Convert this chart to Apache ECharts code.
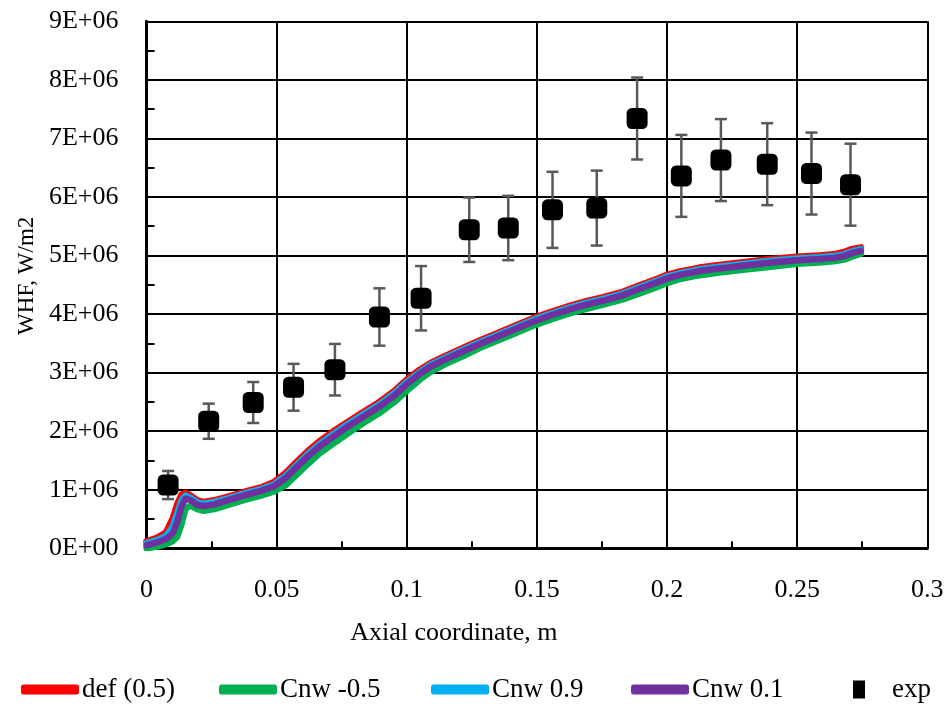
<!DOCTYPE html>
<html>
<head>
<meta charset="utf-8">
<script src="https://cdn.jsdelivr.net/npm/echarts@6/dist/echarts.min.js"></script>
<style>
  html, body { margin: 0; padding: 0; background: #fff; }
  #chart { width: 952px; height: 713px; }
</style>
</head>
<body>
<div id="chart"></div>
<script>
// Axial coordinate (m) of the computed wall heat flux profiles
const axialPos = [0, 0.004, 0.0075, 0.010, 0.0118, 0.0135, 0.015, 0.017, 0.0195, 0.022,
  0.026, 0.032, 0.038, 0.044, 0.049, 0.0535, 0.058, 0.062, 0.0665, 0.0715,
  0.077, 0.083, 0.0895, 0.095, 0.100, 0.105, 0.109, 0.115, 0.1215, 0.128,
  0.1345, 0.1415, 0.1485, 0.1555, 0.1625, 0.169, 0.1755, 0.183, 0.190, 0.196,
  0.200, 0.205, 0.212, 0.220, 0.230, 0.240, 0.250, 0.2585, 0.264, 0.268,
  0.271, 0.2745];

// Wall heat flux, in units of 1E+06 W/m2
const whfDef = [0.12, 0.18, 0.27, 0.50, 0.75, 0.92, 0.95, 0.90, 0.82, 0.79,
  0.82, 0.89, 0.97, 1.04, 1.13, 1.29, 1.49, 1.66, 1.83, 1.99,
  2.15, 2.32, 2.50, 2.68, 2.88, 3.05, 3.16, 3.29, 3.42, 3.55,
  3.67, 3.80, 3.93, 4.04, 4.14, 4.22, 4.29, 4.38, 4.50, 4.60,
  4.67, 4.73, 4.79, 4.84, 4.89, 4.94, 4.98, 5.00, 5.02, 5.06,
  5.11, 5.14];
const whfCnwM05 = [0.00, 0.03, 0.07, 0.12, 0.20, 0.42, 0.68, 0.73, 0.67, 0.64,
  0.67, 0.75, 0.83, 0.90, 0.97, 1.08, 1.27, 1.44, 1.62, 1.78,
  1.95, 2.13, 2.31, 2.49, 2.69, 2.88, 3.01, 3.15, 3.28, 3.42,
  3.54, 3.67, 3.80, 3.91, 4.01, 4.09, 4.16, 4.25, 4.36, 4.46,
  4.53, 4.60, 4.66, 4.71, 4.76, 4.81, 4.86, 4.88, 4.90, 4.93,
  4.98, 5.03];
const whfCnw09 = [0.09, 0.14, 0.21, 0.36, 0.60, 0.82, 0.90, 0.86, 0.78, 0.76,
  0.79, 0.86, 0.94, 1.01, 1.09, 1.24, 1.44, 1.61, 1.78, 1.94,
  2.11, 2.28, 2.46, 2.64, 2.84, 3.01, 3.13, 3.26, 3.39, 3.52,
  3.64, 3.77, 3.90, 4.01, 4.11, 4.19, 4.26, 4.35, 4.47, 4.57,
  4.64, 4.70, 4.76, 4.81, 4.86, 4.91, 4.95, 4.97, 4.99, 5.02,
  5.07, 5.11];
const whfCnw01 = [0.05, 0.10, 0.16, 0.25, 0.45, 0.72, 0.85, 0.82, 0.74, 0.72,
  0.75, 0.83, 0.91, 0.98, 1.06, 1.20, 1.40, 1.57, 1.74, 1.90,
  2.07, 2.24, 2.42, 2.60, 2.80, 2.98, 3.10, 3.23, 3.36, 3.49,
  3.61, 3.74, 3.87, 3.98, 4.08, 4.16, 4.23, 4.32, 4.44, 4.54,
  4.61, 4.67, 4.73, 4.78, 4.83, 4.88, 4.92, 4.94, 4.96, 4.99,
  5.04, 5.08];

// Measured values with their error half-widths (1E+06 W/m2)
const expPos = [0.0083, 0.0239, 0.0410, 0.0565, 0.0724, 0.0895, 0.1055, 0.1240, 0.1390,
  0.1560, 0.1730, 0.1885, 0.2055, 0.2207, 0.2385, 0.2555, 0.2705];
const expWhf = [1.08, 2.17, 2.49, 2.75, 3.05, 3.95, 4.27, 5.44, 5.47,
  5.78, 5.81, 7.34, 6.36, 6.63, 6.56, 6.40, 6.21];
const expErr = [0.24, 0.30, 0.35, 0.40, 0.44, 0.49, 0.55, 0.55, 0.55,
  0.65, 0.64, 0.70, 0.70, 0.70, 0.70, 0.70, 0.70];

const seriesNames = ['def (0.5)', 'Cnw -0.5', 'Cnw 0.9', 'Cnw 0.1'];
const seriesColors = ['#FF0000', '#00B050', '#00B0F0', '#7030A0'];
const seriesValues = [whfDef, whfCnwM05, whfCnw09, whfCnw01];

const FONT = '"Liberation Serif", "DejaVu Serif", serif';

const pairs = (xs, ys) => xs.map((x, i) => [x, ys[i]]);

const lineSeries = seriesNames.map((name, k) => ({
  name: name,
  type: 'line',
  data: pairs(axialPos, seriesValues[k]),
  showSymbol: false,
  symbol: 'none',
  color: seriesColors[k],
  lineStyle: { color: seriesColors[k], width: 6.5, cap: 'round', join: 'round' },
  z: 3 + k
}));

const errData = expPos.map((x, i) => [x, expWhf[i], expErr[i]]);

// Legend row along the bottom edge: one entry per block so each sits at its own x
const legendLeft = [21, 219, 431, 631];
const LEGEND_TOP = 676;
const legendText = { fontFamily: FONT, fontSize: 27, color: '#000', padding: [0, 0, 0, -2] };
const legends = seriesNames.map((name, k) => ({
  data: [name],
  left: legendLeft[k],
  top: LEGEND_TOP,
  padding: 0,
  icon: 'roundRect',
  itemWidth: 58,
  itemHeight: 10,
  textStyle: legendText
}));
legends.push({
  data: ['exp'],
  left: 853,
  top: LEGEND_TOP,
  padding: 0,
  icon: 'rect',
  itemWidth: 12,
  itemHeight: 18,
  textStyle: { fontFamily: FONT, fontSize: 27, color: '#000', padding: [0, 0, 0, 22] }
});

const chart = echarts.init(document.getElementById('chart'), null, { renderer: 'canvas' });

chart.setOption({
  animation: false,
  backgroundColor: '#ffffff',
  grid: { left: 146.5, right: 24.7, top: 21.3, bottom: 164.7 },
  xAxis: {
    type: 'value',
    min: 0, max: 0.3, interval: 0.05,
    name: 'Axial coordinate, m',
    nameLocation: 'middle',
    nameGap: 72,
    nameTextStyle: { fontFamily: FONT, fontSize: 26, color: '#000', padding: [0, 166, 0, 0] },
    axisLine: { show: true, onZero: false, lineStyle: { color: '#000', width: 3 } },
    axisTick: { show: true, inside: true, length: 8, lineStyle: { color: '#000', width: 2 } },
    minorTick: { show: true, splitNumber: 2, length: 7, lineStyle: { color: '#000', width: 2 } },
    splitLine: { show: true, lineStyle: { color: '#000', width: 2 } },
    axisLabel: { fontFamily: FONT, fontSize: 26, color: '#000', margin: 29 }
  },
  yAxis: {
    type: 'value',
    min: 0, max: 9, interval: 1,
    name: 'WHF, W/m2',
    nameLocation: 'middle',
    nameRotate: 90,
    nameGap: 108,
    nameTextStyle: { fontFamily: FONT, fontSize: 23, color: '#000', padding: [0, 0, 0, 18] },
    axisLine: { show: true, onZero: false, lineStyle: { color: '#000', width: 3 } },
    axisTick: { show: true, inside: true, length: 8, lineStyle: { color: '#000', width: 2 } },
    minorTick: { show: true, splitNumber: 2, length: 8, lineStyle: { color: '#000', width: 2 } },
    splitLine: { show: true, lineStyle: { color: '#000', width: 2 } },
    axisLabel: {
      fontFamily: FONT, fontSize: 26, color: '#000', margin: 28,
      formatter: v => v === 0 ? '0E+00' : v + 'E+06'
    }
  },
  legend: legends,
  series: [
    ...lineSeries,
    {
      name: 'exp-error',
      type: 'custom',
      data: errData,
      encode: { x: 0, y: 1 },
      z: 8,
      silent: true,
      renderItem: (params, api) => {
        const x = api.value(0), y = api.value(1), e = api.value(2);
        const hi = api.coord([x, y + e]);
        const lo = api.coord([x, y - e]);
        const cap = 6;
        const style = { stroke: '#595959', lineWidth: 2.5, fill: null };
        return {
          type: 'group',
          children: [
            { type: 'line', shape: { x1: hi[0], y1: hi[1], x2: lo[0], y2: lo[1] }, style: style },
            { type: 'line', shape: { x1: hi[0] - cap, y1: hi[1], x2: hi[0] + cap, y2: hi[1] }, style: style },
            { type: 'line', shape: { x1: lo[0] - cap, y1: lo[1], x2: lo[0] + cap, y2: lo[1] }, style: style }
          ]
        };
      }
    },
    {
      name: 'exp',
      type: 'scatter',
      data: pairs(expPos, expWhf),
      symbol: 'roundRect',
      symbolSize: 21,
      color: '#000',
      itemStyle: { color: '#000', opacity: 1 },
      z: 9
    }
  ]
});
</script>
</body>
</html>
